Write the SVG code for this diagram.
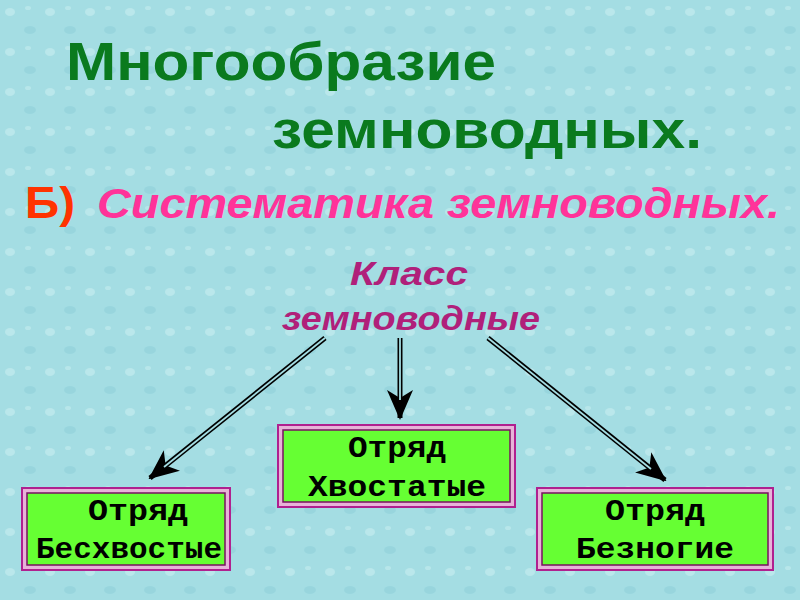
<svg xmlns="http://www.w3.org/2000/svg" width="800" height="600" viewBox="0 0 800 600">
<defs>
<marker id="ah" viewBox="0 0 30 30" refX="28" refY="15" markerWidth="30" markerHeight="30" markerUnits="userSpaceOnUse" orient="auto">
<path d="M0,2 L30,15 L0,28 L8,15 Z" fill="#000"/>
</marker>
<pattern id="drops" width="40" height="40" patternUnits="userSpaceOnUse">
<rect width="40" height="40" fill="#a4dde3"/>
<ellipse cx="10" cy="12" rx="5" ry="4" fill="#c4ecef" opacity="0.7"/>
<ellipse cx="30" cy="30" rx="6" ry="4" fill="#8cced8" opacity="0.5"/>
<ellipse cx="28" cy="8" rx="3" ry="2" fill="#c4ecef" opacity="0.6"/>
</pattern>
</defs>
<style>
.t{font-family:"Liberation Sans",Arial,sans-serif;font-weight:bold}
.m{font-family:"Liberation Mono","Courier New",monospace;font-weight:bold;font-size:30px;fill:#000}
.sh{stroke:#000;stroke-width:5;fill:none}
.ln{stroke:#a4dde3;stroke-width:1.8;fill:none}
.outer{fill:#e7b3d8;stroke:#b0208f;stroke-width:2}
.inner{fill:#66ff33;stroke:#7a1060;stroke-width:1.5}
</style>
<rect width="800" height="600" fill="url(#drops)"/>
<text class="t" x="66" y="80" font-size="54" fill="#0a7a1e" textLength="430" lengthAdjust="spacingAndGlyphs">Многообразие</text>
<text class="t" x="272" y="148" font-size="54" fill="#0a7a1e" textLength="430" lengthAdjust="spacingAndGlyphs">земноводных.</text>
<text class="t" x="25" y="218" font-size="44" fill="#ff3300" textLength="50" lengthAdjust="spacingAndGlyphs">Б)</text>
<text class="t" x="97" y="218" font-size="42" font-style="italic" fill="#ff3399" textLength="683" lengthAdjust="spacingAndGlyphs">Систематика земноводных.</text>
<text class="t" x="350" y="285" font-size="33" font-style="italic" fill="#b0207a" textLength="118" lengthAdjust="spacingAndGlyphs">Класс</text>
<text class="t" x="282" y="330" font-size="33" font-style="italic" fill="#b0207a" textLength="258" lengthAdjust="spacingAndGlyphs">земноводные</text>
<g id="connectors">
<path class="sh" d="M325,338 L150,478" marker-end="url(#ah)"/>
<path class="ln" d="M325,338 L164,467"/>
<path class="sh" d="M400,338 L400,418" marker-end="url(#ah)"/>
<path class="ln" d="M400,338 L400,400"/>
<path class="sh" d="M488,338 L665,480" marker-end="url(#ah)"/>
<path class="ln" d="M488,338 L651,469"/>
</g>
<g id="n1">
<rect class="outer" x="22" y="488" width="208" height="82"/>
<rect class="inner" x="27" y="493" width="198" height="72"/>
<text class="m" x="88" y="520" textLength="100" lengthAdjust="spacingAndGlyphs">Отряд</text>
<text class="m" x="36" y="558" textLength="186" lengthAdjust="spacingAndGlyphs">Бесхвостые</text>
</g>
<g id="n2">
<rect class="outer" x="278" y="425" width="237" height="82"/>
<rect class="inner" x="283" y="430" width="227" height="72"/>
<text class="m" x="348" y="457" textLength="98" lengthAdjust="spacingAndGlyphs">Отряд</text>
<text class="m" x="308" y="496" textLength="178" lengthAdjust="spacingAndGlyphs">Хвостатые</text>
</g>
<g id="n3">
<rect class="outer" x="537" y="488" width="236" height="82"/>
<rect class="inner" x="542" y="493" width="226" height="72"/>
<text class="m" x="605" y="520" textLength="100" lengthAdjust="spacingAndGlyphs">Отряд</text>
<text class="m" x="576" y="558" textLength="158" lengthAdjust="spacingAndGlyphs">Безногие</text>
</g>
</svg>
